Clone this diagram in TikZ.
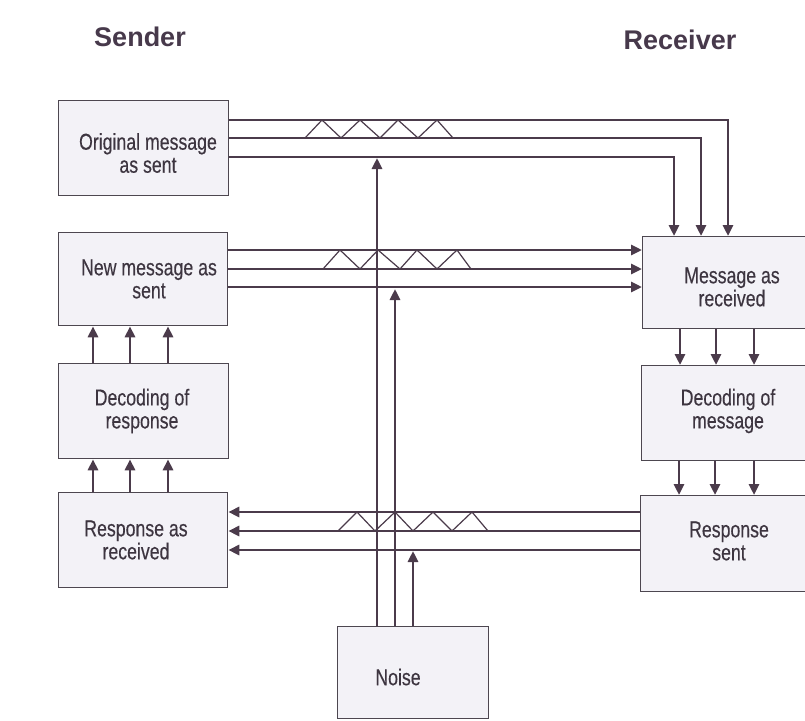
\documentclass[tikz,border=0pt]{standalone}
\usepackage{fontspec}
\setmainfont{Liberation Sans}
\usetikzlibrary{arrows.meta}
\definecolor{linec}{HTML}{4B3B4B}
\definecolor{boxc}{HTML}{4D4750}
\definecolor{boxfill}{HTML}{F3F2F7}
\definecolor{txtc}{HTML}{3D3540}
\definecolor{ttlc}{HTML}{47394B}
\tikzset{
  box/.style={draw=boxc, fill=boxfill, line width=1.3pt, anchor=north west, inner sep=0pt},
  conn/.style={draw=linec, line width=2.8pt, -{Triangle[length=11pt,width=10pt]}},
  zig/.style={draw=linec, line width=1.2pt, line join=miter},
  lbl/.style={align=center, font=\fontsize{23}{23}\selectfont\addfontfeature{FakeStretch=0.77,FakeBold=0.3}, text=txtc},
  ttl/.style={font=\fontsize{27}{30}\selectfont\bfseries, text=ttlc}
}
\begin{document}
\begin{tikzpicture}[x=1pt,y=-1pt]
\useasboundingbox[fill=white] (0,0) rectangle (805,720);
% boxes
\node[box, minimum width=170pt, minimum height=95pt] (orig) at (58,100) {};
\node[box, minimum width=169pt, minimum height=93pt] (newm) at (58,232) {};
\node[box, minimum width=170pt, minimum height=95pt] (decr) at (58,363) {};
\node[box, minimum width=169pt, minimum height=95pt] (resr) at (58,492) {};
\node[box, minimum width=172pt, minimum height=92pt] (msgr) at (642,236) {};
\node[box, minimum width=173pt, minimum height=95pt] (decm) at (641,365) {};
\node[box, minimum width=174pt, minimum height=96pt] (resp) at (640,495) {};
\node[box, minimum width=151pt, minimum height=92pt] (noise) at (337,626) {};
% titles
\node[ttl] (tsend) at (140,37) {Sender};
\node[ttl] (trecv) at (680,40) {Receiver};
% labels
\node[lbl] (lorig) at (148,153) {Original message\\as sent};
\node[lbl] (lnewm) at (149,279) {New message as\\sent};
\node[lbl] (ldecr) at (142,411) {Decoding of\\response};
\node[lbl] (lresr) at (136,540) {Response as\\received};
\node[lbl] (lmsgr) at (732,287) {Message as\\received};
\node[lbl] (ldecm) at (728,411) {Decoding of\\message};
\node[lbl] (lresp) at (729,541) {Response\\sent};
\node[lbl] (lnoise) at (398,677) {Noise};
% original message -> message received
\draw[conn] (orig.east |- 0,120) -| (msgr.north -| 728,0);
\draw[conn] (orig.east |- 0,138) -| (msgr.north -| 701,0);
\draw[conn] (orig.east |- 0,157) -| (msgr.north -| 674,0);
% new message -> message received
\draw[conn] (newm.east |- 0,250) -- (msgr.west |- 0,250);
\draw[conn] (newm.east |- 0,269) -- (msgr.west |- 0,269);
\draw[conn] (newm.east |- 0,287) -- (msgr.west |- 0,287);
% response sent -> response received
\draw[conn] (resp.west |- 0,512) -- (resr.east |- 0,512);
\draw[conn] (resp.west |- 0,531) -- (resr.east |- 0,531);
\draw[conn] (resp.west |- 0,550) -- (resr.east |- 0,550);
% left vertical arrows
\foreach \xx in {93,130,168}{
  \draw[conn] (decr.north -| \xx,0) -- (newm.south -| \xx,0);
  \draw[conn] (resr.north -| \xx,0) -- (decr.south -| \xx,0);
}
% right vertical arrows
\foreach \xx in {680,716,754}{
  \draw[conn] (msgr.south -| \xx,0) -- (decm.north -| \xx,0);
}
\foreach \xx in {679,715,754}{
  \draw[conn] (decm.south -| \xx,0) -- (resp.north -| \xx,0);
}
% noise arrows
\coordinate (n1) at (377,158);
\coordinate (n2) at (395,289);
\coordinate (n3) at (413,551);
\draw[conn] (noise.north -| n1) -- (n1);
\draw[conn] (noise.north -| n2) -- (n2);
\draw[conn] (noise.north -| n3) -- (n3);
% zigzags
\draw[zig] (305,138)--(322,120)--(341,138)--(360,120)--(380,138)--(398,120)--(418,138)--(437,120)--(453,138);
\draw[zig] (323,269)--(340,250)--(360,269)--(378,250)--(400,269)--(417,250)--(437,269)--(457,250)--(471,269);
\draw[zig] (338,531)--(357,512)--(375,531)--(395,512)--(413,531)--(433,512)--(452,531)--(472,512)--(488,531);
\end{tikzpicture}
\end{document}
